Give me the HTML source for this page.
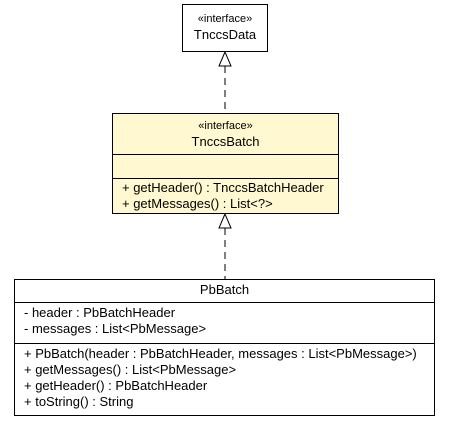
<!DOCTYPE html>
<html><head><style>
body{margin:0;width:451px;height:427px;background:#fff;position:relative;font-family:"Liberation Sans",sans-serif;font-size:13px;color:#000;overflow:hidden}
.b{position:absolute;border:1px solid #000;box-sizing:border-box}
.c{text-align:center}
.t{position:absolute;white-space:nowrap;line-height:16px}
</style></head><body>
<div class="b" style="left:182px;top:4px;width:86px;height:48px;background:#fff"></div>
<div class="t c" style="left:182px;width:86px;top:11px;font-size:11px">«interface»</div>
<div class="t c" style="left:182px;width:86px;top:27px">TnccsData</div>

<div class="b" style="left:112px;top:113px;width:227px;height:101px;background:#fff8d0"></div>
<div class="t c" style="left:112px;width:227px;top:118px;font-size:11px">«interface»</div>
<div class="t c" style="left:112px;width:227px;top:134px">TnccsBatch</div>
<div style="position:absolute;left:112px;width:227px;top:154px;border-top:1px solid #000"></div>
<div style="position:absolute;left:112px;width:227px;top:178px;border-top:1px solid #000"></div>
<div class="t" style="left:122px;top:180px">+ getHeader() : TnccsBatchHeader</div>
<div class="t" style="left:122px;top:196px">+ getMessages() : List&lt;?&gt;</div>

<div class="b" style="left:14px;top:279px;width:421px;height:137px;background:#fff"></div>
<div class="t c" style="left:14px;width:421px;top:282px">PbBatch</div>
<div style="position:absolute;left:14px;width:421px;top:302px;border-top:1px solid #000"></div>
<div class="t" style="left:24px;top:305px">- header : PbBatchHeader</div>
<div class="t" style="left:24px;top:321px">- messages : List&lt;PbMessage&gt;</div>
<div style="position:absolute;left:14px;width:421px;top:343px;border-top:1px solid #000"></div>
<div class="t" style="left:24px;top:346px">+ PbBatch(header : PbBatchHeader, messages : List&lt;PbMessage&gt;)</div>
<div class="t" style="left:24px;top:362px">+ getMessages() : List&lt;PbMessage&gt;</div>
<div class="t" style="left:24px;top:378px">+ getHeader() : PbBatchHeader</div>
<div class="t" style="left:24px;top:394px">+ toString() : String</div>

<svg style="position:absolute;left:0;top:0" width="451" height="427">
<line x1="225" y1="66" x2="225" y2="113" stroke="#000" stroke-dasharray="7,5"/>
<polygon points="225,52 219,66 231,66" fill="#fff" stroke="#000"/>
<line x1="225" y1="228" x2="225" y2="279" stroke="#000" stroke-dasharray="7,5"/>
<polygon points="225,214 219,228 231,228" fill="#fff" stroke="#000"/>
</svg>
</body></html>
